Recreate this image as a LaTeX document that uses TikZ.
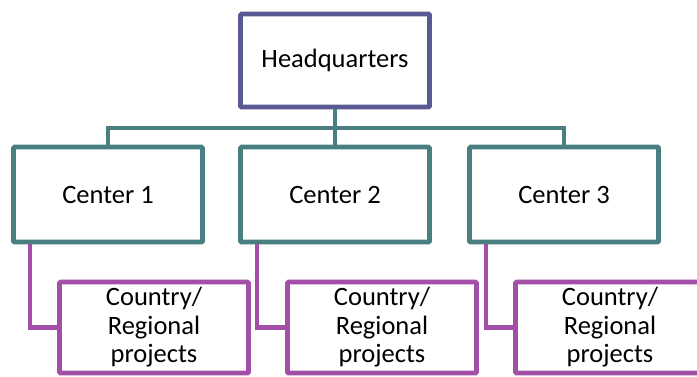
\documentclass[tikz,border=0pt]{standalone}
\usepackage{fontspec}
\setmainfont{Carlito}
\usepackage{xcolor}
\definecolor{hqblue}{HTML}{595994}
\definecolor{centerteal}{HTML}{4A7F82}
\definecolor{projpurple}{HTML}{A24FA8}
\tikzset{
  box/.style={draw, line width=4.6pt, rounded corners=1pt, minimum width=189pt,
    font=\fontsize{26.5}{28.5}\selectfont, align=center, inner sep=0pt},
  hqbox/.style={box, hqblue, text=black, minimum height=93pt},
  centerbox/.style={box, centerteal, text=black, minimum height=95pt},
  projbox/.style={box, projpurple, text=black, minimum height=91pt},
  teallink/.style={centerteal, line width=4.2pt},
  purplelink/.style={projpurple, line width=4.2pt}
}

\begin{document}
\begin{tikzpicture}[x=1pt, y=-1pt]
  \useasboundingbox (0,0) rectangle (697,376);
  \begin{scope}
    \clip (0,0) rectangle (697,376);
    \node[hqbox] (hq) at (335,60.5) {Headquarters};
    \node[centerbox] (c1) at (108,194.5) {Center 1};
    \node[centerbox] (c2) at (335,194.5) {Center 2};
    \node[centerbox] (c3) at (564,194.5) {Center 3};
    \node[projbox] (p1) at (154,327.5) {Country/\\Regional\\projects};
    \node[projbox] (p2) at (382,327.5) {Country/\\Regional\\projects};
    \node[projbox] (p3) at (610,327.5) {Country/\\Regional\\projects};
    \coordinate (bus) at (335,128);
    \draw[teallink] (hq.south) -- (c2.north);
    \draw[teallink] (c1.north) |- (bus) -| (c3.north);
    \draw[purplelink] ([xshift=19pt]c1.south west) |- (p1.west);
    \draw[purplelink] ([xshift=19pt]c2.south west) |- (p2.west);
    \draw[purplelink] ([xshift=19pt]c3.south west) |- (p3.west);
  \end{scope}
\end{tikzpicture}
\end{document}
